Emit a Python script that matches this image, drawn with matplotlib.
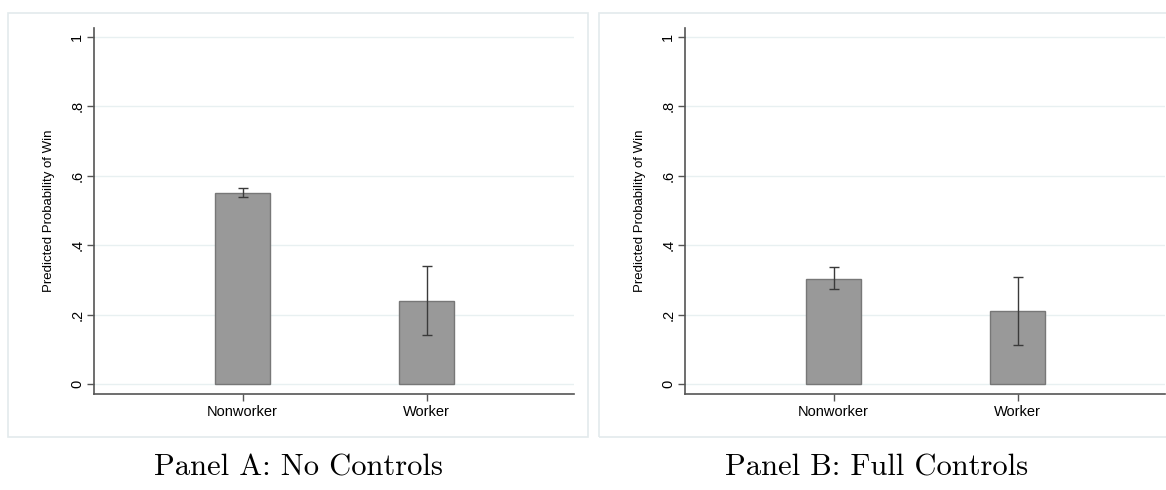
import matplotlib
matplotlib.use("Agg")
import matplotlib.pyplot as plt
from matplotlib.patches import Rectangle

categories = ["Nonworker", "Worker"]
panel_titles = ["Panel A: No Controls", "Panel B: Full Controls"]
# predicted probabilities and confidence bounds per panel
means = [[0.551, 0.238], [0.303, 0.209]]
lower = [[0.538, 0.140], [0.273, 0.111]]
upper = [[0.566, 0.339], [0.338, 0.309]]
yticks = [0, 0.2, 0.4, 0.6, 0.8, 1]
yticklabels = ["0", ".2", ".4", ".6", ".8", "1"]

W, H = 1166, 490
fig = plt.figure(figsize=(W / 100, H / 100), dpi=100)
plt.rcParams["font.family"] = ["Liberation Sans", "DejaVu Sans"]

offsets = [0, 591]
title_x = [298, 877]
for i in range(2):
    dx = offsets[i]
    # light outer frame of each Stata graph
    fig.patches.append(Rectangle(((8 + dx) / W, 1 - 436.5 / H), 580.5 / W, 423 / H,
                                 transform=fig.transFigure, fill=False,
                                 edgecolor="#e3eaec", linewidth=1.2))
    ax = fig.add_axes([(94 + dx) / W, 1 - 394 / H, 480 / W, 366 / H])
    x = [1, 2]
    yerr = [[m - l for m, l in zip(means[i], lower[i])],
            [u - m for m, u in zip(means[i], upper[i])]]
    ax.bar(x, means[i], width=0.3, color="#999999", edgecolor="#777777",
           linewidth=1, zorder=2)
    ax.errorbar(x, means[i], yerr=yerr, fmt="none", ecolor="#3a3a3a",
                elinewidth=1, capsize=3.5, capthick=1, zorder=3)
    ax.set_xlim(0.193, 2.8)
    ax.set_ylim(-0.029, 1.026)
    ax.set_xticks(x)
    ax.set_xticklabels(categories, fontsize=10.5)
    ax.set_yticks(yticks)
    ax.set_yticklabels(yticklabels, fontsize=10.5, rotation=90, va="center")
    ax.grid(axis="y", color="#e8f0f1", linewidth=1, zorder=0)
    ax.set_axisbelow(True)
    for s in ["top", "right"]:
        ax.spines[s].set_visible(False)
    for s in ["left", "bottom"]:
        ax.spines[s].set_color("#555555")
        ax.spines[s].set_linewidth(1.2)
    ax.tick_params(axis="both", length=5, width=1, color="#555555")
    ax.tick_params(axis="y", pad=2)
    ax.tick_params(axis="x", pad=3)
    ax.set_ylabel("Predicted Probability of Win", fontsize=9.5, labelpad=11)
    fig.text(title_x[i] / W, 1 - 468 / H, panel_titles[i],
             family="cmr10", fontsize=22, ha="center", va="center")

fig.savefig("out.png", dpi=100)
